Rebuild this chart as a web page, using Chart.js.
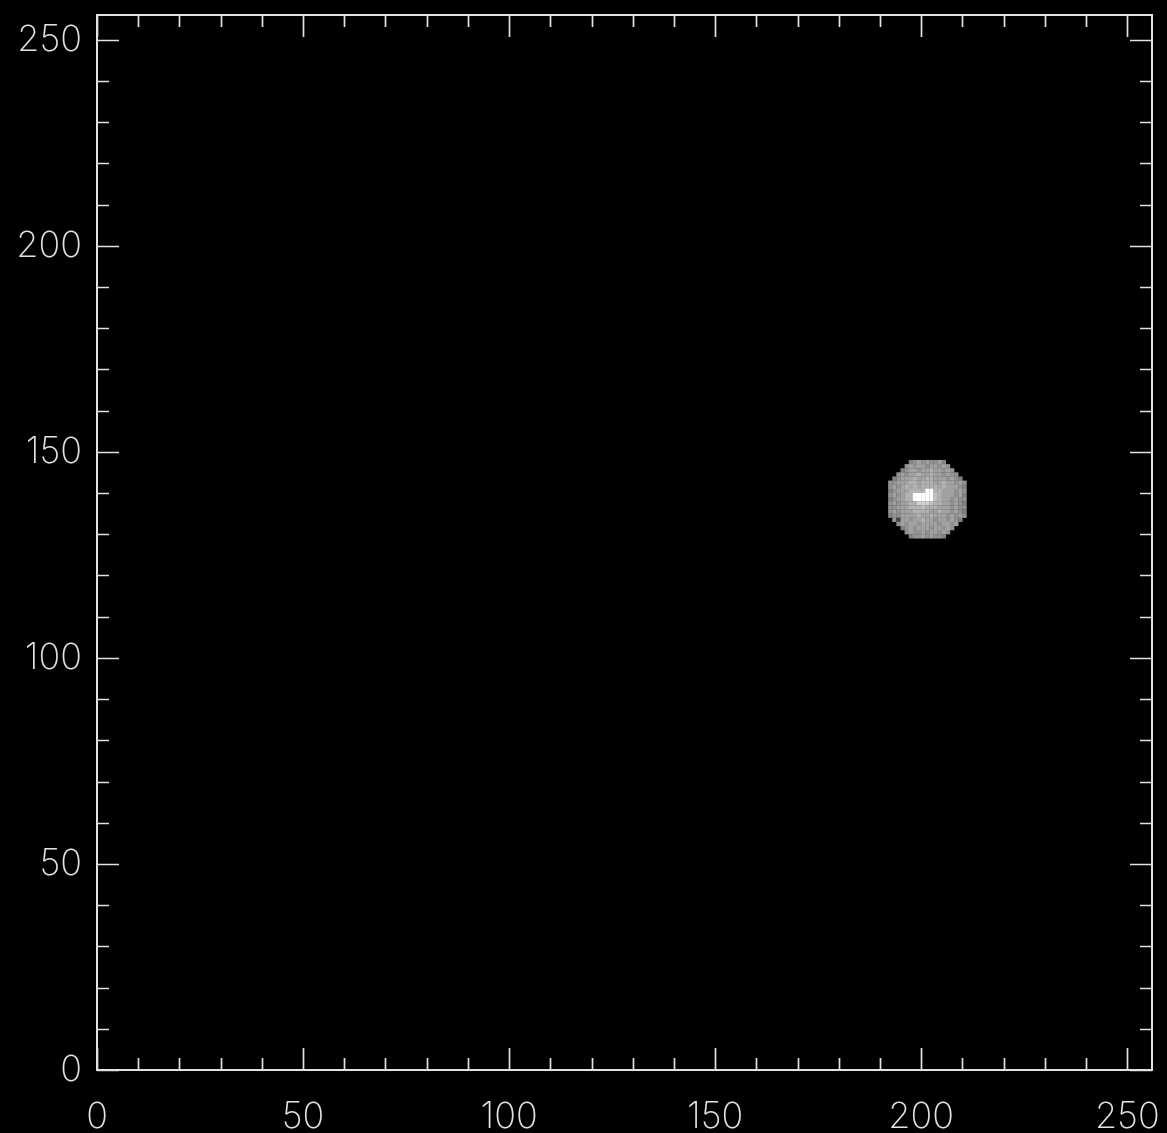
<!DOCTYPE html>
<html>
<head>
<meta charset="utf-8">
<script src="https://cdn.jsdelivr.net/npm/chart.js@4.4.1/dist/chart.umd.min.js"></script>
<style>
	html, body { margin: 0; padding: 0; background: #000; }
	canvas { display: block; }
</style>
</head>
<body>
<canvas id="chart" width="1167" height="1133"></canvas>
<script>
// axis setup (image pixel coordinates)
const axisMin = 0;
const axisMax = 256;
const majorTicks = [0, 50, 100, 150, 200, 250];
const minorStep = 10;

// blob: one char per image pixel, '.' = empty,
// hex digit = grey level (f = white). first row is y = 147, first column x = 192
const blobLeft = 192;
const blobTop = 147;
const blobRows = [
	'.....89a9a99a8.....',
	'....9a9aa9aa9a9....',
	'...89aa9aabaa9a9...',
	'..9a9aabaabaa9a99..',
	'.89aaabaabbaaa9a98.',
	'99aaabbabbbaabaa9a9',
	'9a9abababbbbabaaa98',
	'89aaabbbbffbbaaa9a9',
	'9a9abbfffffcbaaa9a8',
	'89aabbfffffcbaa9a99',
	'9a9aabbdddcbbaa9a98',
	'99aaabbbcbbbaaa9a99',
	'9a9aaabbbbaabaa9a98',
	'899aaaabaabaaa9a9a9',
	'.94aa9aabaa9aa9a98.',
	'..9a9aa9aaaa9aa9a..',
	'...89a9aaa9aa9a9...',
	'....9a99a9aa9a9....',
	'.....899a9a998.....',
];

function greyFor(ch) {
	const v = parseInt(ch, 16);
	const g = v === 15 ? 255 : v * 16 + 2;
	return `rgb(${g}, ${g}, ${g})`;
}

function getBlobPoints() {
	const points = [];
	const colors = [];
	blobRows.forEach((row, r) => {
		row.split('').forEach((ch, c) => {
			if (ch === '.') return;
			points.push({ x: blobLeft + c + 0.5, y: blobTop - r + 0.5 });
			colors.push(greyFor(ch));
		});
	});
	return { points, colors };
}

const lineColor = '#e2e2e2';
const tickFont = { family: 'Inter', size: 36, weight: 200 };

// IDL style frame: box plus inward ticks on all four sides
const frame = {
	id: 'frame',
	afterDatasetsDraw(chart) {
		const { ctx, chartArea: a, scales: { x, y } } = chart;
		ctx.save();
		ctx.strokeStyle = lineColor;
		ctx.lineWidth = 2;
		ctx.strokeRect(a.left, a.top, a.right - a.left, a.bottom - a.top);

		ctx.lineWidth = 1.7;
		ctx.beginPath();
		for (let v = axisMin; v <= axisMax; v += minorStep) {
			const len = majorTicks.includes(v) ? 22 : 12;
			const px = Math.round(x.getPixelForValue(v)) + 0.5;
			const py = Math.round(y.getPixelForValue(v)) + 0.5;
			ctx.moveTo(px, a.bottom); ctx.lineTo(px, a.bottom - len);
			ctx.moveTo(px, a.top); ctx.lineTo(px, a.top + len);
			ctx.moveTo(a.left, py); ctx.lineTo(a.left + len, py);
			ctx.moveTo(a.right, py); ctx.lineTo(a.right - len, py);
		}
		ctx.stroke();
		ctx.restore();
	},
};

const blob = getBlobPoints();

new Chart(document.getElementById('chart').getContext('2d'), {
	type: 'scatter',
	data: {
		datasets: [{
			data: blob.points,
			pointStyle: 'rect',
			pointRadius: 3.1,
			pointHoverRadius: 3.1,
			pointBorderWidth: 0,
			pointBackgroundColor: blob.colors,
		}],
	},
	options: {
		responsive: false,
		animation: false,
		events: [],
		layout: { padding: { top: 15, right: 15, left: 0, bottom: 0 } },
		plugins: {
			legend: { display: false },
			tooltip: { enabled: false },
		},
		scales: {
			x: {
				type: 'linear',
				min: axisMin,
				max: axisMax,
				grid: { display: false, drawTicks: false },
				border: { display: false },
				ticks: {
					stepSize: 50,
					includeBounds: false,
					maxRotation: 0,
					color: lineColor,
					font: tickFont,
					padding: 26,
				},
				afterFit(scale) {
					scale.height = 63;
					scale.paddingLeft = 0;
					scale.paddingRight = 0;
				},
			},
			y: {
				type: 'linear',
				min: axisMin,
				max: axisMax,
				grid: { display: false, drawTicks: false },
				border: { display: false },
				ticks: {
					stepSize: 50,
					includeBounds: false,
					color: lineColor,
					font: tickFont,
					padding: 15,
				},
				afterFit(scale) {
					scale.width = 97;
					scale.paddingTop = 0;
					scale.paddingBottom = 0;
				},
			},
		},
	},
	plugins: [frame],
});
</script>
</body>
</html>
